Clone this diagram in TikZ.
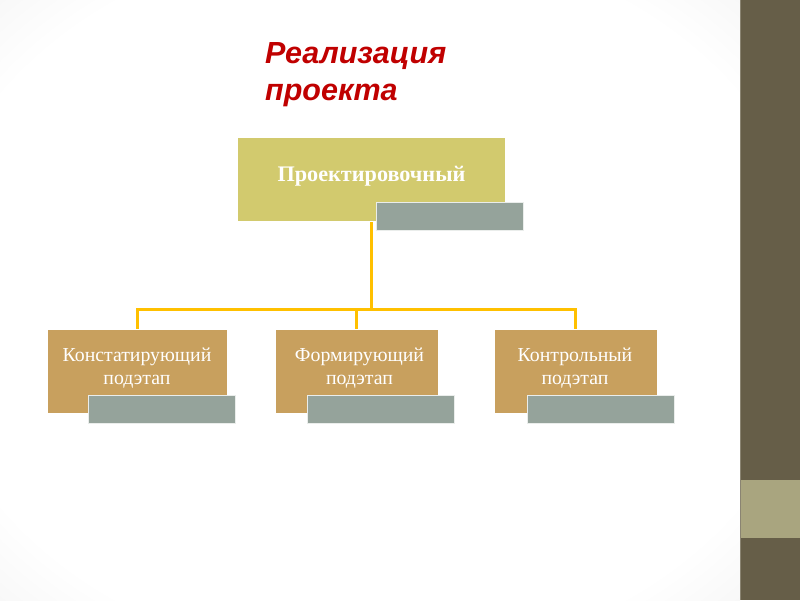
\documentclass[tikz,border=0pt]{standalone}
\usepackage{fontspec}
\setmainfont{Liberation Serif}
\newfontfamily\titlefont{Liberation Sans}
\definecolor{titlered}{HTML}{C00000}
\definecolor{topfill}{HTML}{D2CA6E}
\definecolor{subfill}{HTML}{C8A05E}
\definecolor{greyfill}{HTML}{95A39B}
\definecolor{connclr}{HTML}{FFC000}
\definecolor{stripdark}{HTML}{665E48}
\definecolor{stripband}{HTML}{A9A57F}
\definecolor{stripedge}{HTML}{8A8472}
\pgfdeclareradialshading{vign}{\pgfpoint{0bp}{0bp}}{%
  color(0bp)=(white); color(30bp)=(white); color(50bp)=(black!10); color(72bp)=(black!14)}
\tikzset{
  topbox/.style={fill=topfill, draw=white, line width=0.6pt, minimum width=268pt, minimum height=84pt, inner sep=0pt},
  subbox/.style={fill=subfill, draw=white, line width=0.6pt, minimum height=84pt, inner sep=0pt},
  greybox/.style={fill=greyfill, draw=white!80!greyfill, line width=0.6pt, minimum width=147pt, minimum height=28pt, inner sep=0pt},
  conn/.style={draw=connclr, line width=3pt},
  toptext/.style={text=white, font=\fontsize{22.2}{26}\selectfont\bfseries, inner sep=0pt},
  subtext/.style={text=white, font=\fontsize{19.8}{23}\selectfont, align=center, inner sep=0pt},
  titletext/.style={text=titlered, font=\titlefont\fontsize{30.5}{37}\selectfont\bfseries\itshape, align=left, inner sep=0pt}
}
\begin{document}
\begin{tikzpicture}[x=1pt,y=-1pt]
\useasboundingbox (0,0) rectangle (800,600);
\shade[shading=vign] (0,0) rectangle (740,600);
\fill[stripdark] (740,0) rectangle (800,600);
\fill[stripband] (740,480) rectangle (800,538);
\draw[stripedge, line width=1pt] (740.5,0) -- (740.5,600);

% title (base = baseline of last line)
\node[titletext, anchor=base west] (title) at (265,100) {Реализация\\проекта};

% boxes
\node[topbox] (top) at (371,179.5) {};
\node[subbox, minimum width=180pt] (c1) at (137,371) {};
\node[subbox, minimum width=163pt] (c2) at (356.5,371) {};
\node[subbox, minimum width=163pt] (c3) at (575.5,371) {};

% connectors
\coordinate (j) at (371,309);
\draw[conn] (top.south) -- (j);
\draw[conn] (c1.north) |- (j) -| (c3.north);
\draw[conn] (c2.north) |- (j);

% redraw boxes over connector ends
\node[topbox] at (371,179.5) {};
\node[subbox, minimum width=180pt] at (137,371) {};
\node[subbox, minimum width=163pt] at (356.5,371) {};
\node[subbox, minimum width=163pt] at (575.5,371) {};

% grey tabs
\node[greybox] (g0) at (450,216.5) {};
\node[greybox] (g1) at (161.5,409) {};
\node[greybox] (g2) at (381,409) {};
\node[greybox] (g3) at (600.5,409) {};

% texts (base = baseline of last line)
\node[toptext, anchor=base] (t0) at (371.5,181) {Проектировочный};
\node[subtext, anchor=base] (t1) at (137,384) {Констатирующий\\подэтап};
\node[subtext, anchor=base] (t2) at (359.5,384) {Формирующий\\подэтап};
\node[subtext, anchor=base] (t3) at (575,384) {Контрольный\\подэтап};
\end{tikzpicture}
\end{document}
